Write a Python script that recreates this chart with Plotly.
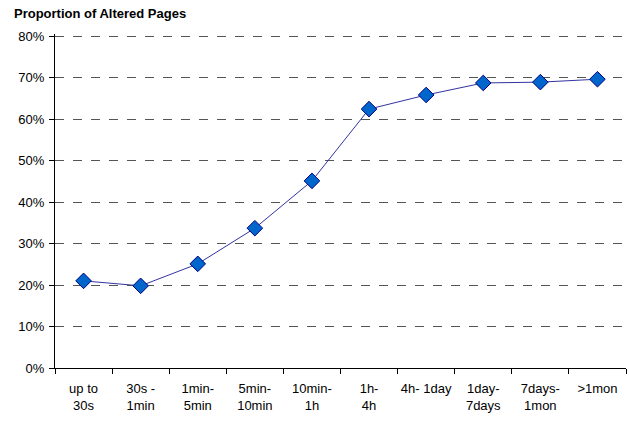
import plotly.graph_objects as go

categories = ["up to<br>30s", "30s -<br>1min", "1min-<br>5min", "5min-<br>10min", "10min-<br>1h",
              "1h-<br>4h", "4h- 1day", "1day-<br>7days", "7days-<br>1mon", ">1mon"]
altered = [0.210, 0.198, 0.251, 0.337, 0.451, 0.624, 0.658, 0.687, 0.689, 0.696]
y_ticks = [0, 0.1, 0.2, 0.3, 0.4, 0.5, 0.6, 0.7, 0.8]
y_tick_labels = ["0%", "10%", "20%", "30%", "40%", "50%", "60%", "70%", "80%"]

font = "Liberation Sans, Arial, sans-serif"
plot_w, plot_h = 571, 334

fig = go.Figure()
fig.add_trace(go.Scatter(
    x=categories, y=altered, mode="lines+markers",
    line=dict(color="#3333A0", width=1),
    marker=dict(symbol="diamond", size=12, color="#0066CC",
                line=dict(color="#000080", width=1)),
    showlegend=False, cliponaxis=False,
))

fig.update_layout(
    width=629, height=422,
    margin=dict(l=55, r=3, t=34, b=54, autoexpand=False),
    paper_bgcolor="white", plot_bgcolor="white",
    font=dict(family=font, size=13, color="black"),
    annotations=[dict(text="<b>Proportion of Altered Pages</b>",
                      xref="paper", yref="paper",
                      x=-43 / plot_w, y=1 + 20 / plot_h,
                      xanchor="left", yanchor="middle",
                      showarrow=False, font=dict(size=13))],
)

fig.update_xaxes(
    type="category", range=[-0.5, len(categories) - 0.5],
    showgrid=False, showline=True, linecolor="black", linewidth=1,
    ticks="outside", tickson="boundaries", ticklen=5, tickcolor="black",
    tickfont=dict(size=13), zeroline=False, ticklabelstandoff=8, tickangle=0,
    automargin=False,
)
fig.update_yaxes(
    range=[0, 0.805], tickvals=y_ticks, ticktext=y_tick_labels,
    showgrid=True, gridcolor="#555555", griddash="dash", gridwidth=1,
    showline=True, linecolor="black", linewidth=1,
    ticks="outside", ticklen=5, tickcolor="black", zeroline=False,
    tickfont=dict(size=13), ticklabelstandoff=2, automargin=False,
)

fig.write_html("out.html")
